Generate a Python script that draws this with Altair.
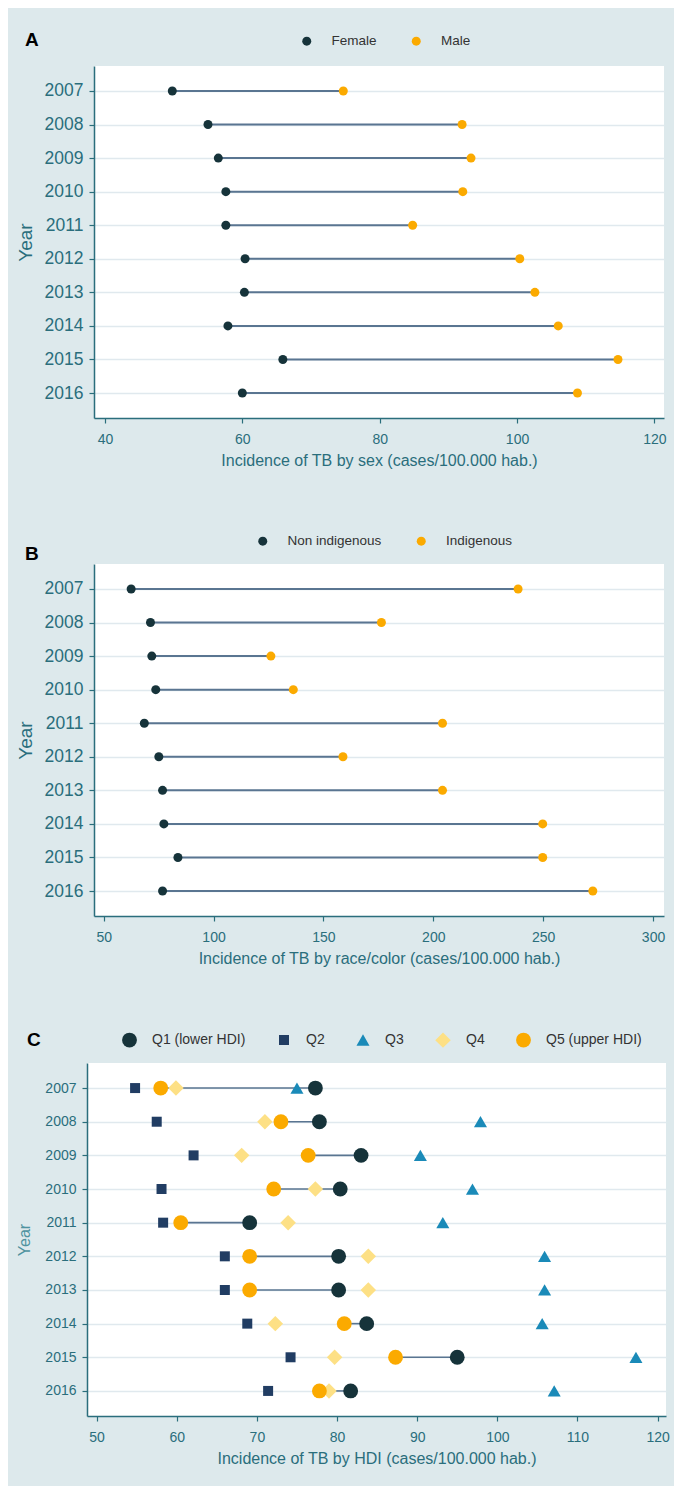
import altair as alt
import pandas as pd

# ---------------- data ----------------
years = [2007, 2008, 2009, 2010, 2011, 2012, 2013, 2014, 2015, 2016]

female = [49.8, 55.0, 56.5, 57.6, 57.6, 60.4, 60.3, 57.9, 65.9, 60.0]
male = [74.7, 92.0, 93.3, 92.1, 84.8, 100.4, 102.6, 106.0, 114.7, 108.8]

non_indigenous = [62.5, 71.3, 71.9, 73.7, 68.5, 75.1, 76.8, 77.4, 83.8, 76.8]
indigenous = [238.6, 176.4, 126.1, 136.3, 204.2, 158.9, 204.2, 249.8, 249.8, 272.6]

q1 = [77.3, 77.8, 83.0, 80.4, 69.1, 80.2, 80.2, 83.7, 95.0, 81.7]
q2 = [54.8, 57.5, 62.1, 58.1, 58.3, 66.0, 66.0, 68.8, 74.2, 71.4]
q3 = [75.0, 97.9, 90.4, 96.9, 93.2, 105.9, 105.9, 105.6, 117.3, 107.1]
q4 = [59.9, 71.0, 68.1, 77.3, 73.9, 83.9, 83.9, 72.3, 79.7, 79.0]
q5 = [58.0, 73.0, 76.4, 72.1, 60.5, 69.1, 69.1, 80.9, 87.3, 77.8]

hdi_groups = ["Q1 (lower HDI)", "Q2", "Q3", "Q4", "Q5 (upper HDI)"]

xticks_a = [40, 60, 80, 100, 120]
xticks_b = [50, 100, 150, 200, 250, 300]
xticks_c = [50, 60, 70, 80, 90, 100, 110, 120]

# ---------------- style ----------------
FONT = "Liberation Sans"
BG = "#dde9ec"
TEAL = "#2a6e7c"
TEAL_LIGHT = "#4f93a0"
DARK = "#16333a"
ORANGE = "#fbaa00"
LINE = "#5a7591"
NAVY = "#213d63"
BLUE = "#1a8ab8"
YELLOW = "#fde085"
GRID = "#e0e9ee"
LEG_TXT = "#333333"

INDEP = dict(color="independent", shape="independent", size="independent",
             x="independent", y="independent")


def y_axis(label_size, title_size, title_color, extent, title_pad):
    return alt.Axis(
        title="Year", titleFontSize=title_size, titleFontWeight="normal",
        titleColor=title_color, titlePadding=title_pad, titleFont=FONT,
        minExtent=extent, maxExtent=extent,
        labelFont=FONT, labelFontSize=label_size, labelColor=TEAL, labelPadding=6,
        domainColor=TEAL, domainWidth=1.5, tickColor=TEAL, tickSize=5, tickWidth=1.2,
        grid=True, gridColor=GRID, gridWidth=1.6,
    )


def x_axis(title, ticks):
    return alt.Axis(
        title=title, values=ticks, titleFontSize=16, titleFontWeight="normal",
        titleColor=TEAL, titlePadding=6, titleFont=FONT,
        labelFont=FONT, labelFontSize=14, labelColor=TEAL, labelPadding=9,
        domainColor=TEAL, domainWidth=1.5, tickColor=TEAL, tickSize=5, tickWidth=1.2,
        grid=False, labelFlush=False,
    )


def panel_title(letter, dx, dy):
    return alt.TitleParams(letter, anchor="start", frame="group", fontSize=19,
                           fontWeight="bold", color="black", font=FONT, dx=dx, dy=dy)


def spacer():
    # invisible 1px column so each panel's plot origin follows its own left extent
    return alt.Chart(pd.DataFrame({"v": [0]})).mark_point(opacity=0).encode(
        x=alt.value(0), y=alt.value(0)
    ).properties(width=1, height=1, view=alt.ViewBackground(fill=None, stroke=None))


def row(panel):
    return alt.hconcat(spacer(), panel, spacing=0).resolve_scale(**INDEP)


def dumbbell(letter, lo, hi, lo_name, hi_name, dom, ticks, xtitle, leg_x, leg_y, title_dy):
    wide = pd.DataFrame({"Year": years, "lo": lo, "hi": hi})
    long = pd.DataFrame({
        "Year": years + years,
        "Group": [lo_name] * len(years) + [hi_name] * len(years),
        "Value": lo + hi,
    })
    xs = alt.Scale(domain=dom, nice=False, zero=False)
    y = alt.Y("Year:O", scale=alt.Scale(type="point", padding=0.745),
              axis=y_axis(17.5, 19, TEAL, 51, 8))
    rule = alt.Chart(wide).mark_rule(color=LINE, strokeWidth=2).encode(
        y=y, x=alt.X("lo:Q", scale=xs, axis=x_axis(xtitle, ticks)), x2="hi:Q")
    pts = alt.Chart(long).mark_circle(size=81, opacity=1).encode(
        y=y,
        x=alt.X("Value:Q", scale=xs, axis=x_axis(xtitle, ticks)),
        color=alt.Color("Group:N", scale=alt.Scale(domain=[lo_name, hi_name], range=[DARK, ORANGE]),
                        legend=alt.Legend(orient="none", legendX=leg_x, legendY=leg_y,
                                          direction="horizontal", title=None, padding=0,
                                          labelFont=FONT, labelFontSize=13.5, labelColor=LEG_TXT,
                                          labelOffset=18, columnPadding=32.5, symbolSize=81,
                                          symbolStrokeWidth=0, symbolOpacity=1)),
    )
    return alt.layer(rule, pts).properties(width=570, height=352,
                                           view=alt.ViewBackground(fill="white", stroke=None),
                                           title=panel_title(letter, -69, title_dy))


panel_a = dumbbell("A", female, male, "Female", "Male", [38.4, 121.4], xticks_a,
                   "Incidence of TB by sex (cases/100.000 hab.)", 206, -32, 20)
panel_b = dumbbell("B", non_indigenous, indigenous, "Non indigenous", "Indigenous", [45.6, 305],
                   xticks_b, "Incidence of TB by race/color (cases/100.000 hab.)", 162, -30, 34)

# ---------------- panel C ----------------
wide_c = pd.DataFrame({"Year": years, "lo": q5, "hi": q1})
order = [1, 2, 3, 4, 0]  # draw Q2, Q3, Q4, Q5, then Q1 on top
series = [q1, q2, q3, q4, q5]
rows = []
for gi in order:
    for yr, v in zip(years, series[gi]):
        rows.append({"Year": yr, "Group": hdi_groups[gi], "Value": v})
long_c = pd.DataFrame(rows)

xs_c = alt.Scale(domain=[48.8, 121.05], nice=False, zero=False)
xtitle_c = "Incidence of TB by HDI (cases/100.000 hab.)"
y_c = alt.Y("Year:O", scale=alt.Scale(type="point", padding=0.745),
            axis=y_axis(14, 16, TEAL_LIGHT, 46, 9))
rule_c = alt.Chart(wide_c).mark_rule(color=LINE, strokeWidth=1.6).encode(
    y=y_c, x=alt.X("lo:Q", scale=xs_c, axis=x_axis(xtitle_c, xticks_c)), x2="hi:Q")
pts_c = alt.Chart(long_c).mark_point(filled=True, opacity=1).encode(
    y=y_c,
    x=alt.X("Value:Q", scale=xs_c, axis=x_axis(xtitle_c, xticks_c)),
    color=alt.Color("Group:N", scale=alt.Scale(domain=hdi_groups,
                                               range=[DARK, NAVY, BLUE, YELLOW, ORANGE]),
                    legend=alt.Legend(orient="none", legendX=35, legendY=-31,
                                      direction="horizontal", title=None, padding=0,
                                      labelFont=FONT, labelFontSize=14, labelColor=LEG_TXT,
                                      labelOffset=15, columnPadding=31,
                                      symbolStrokeWidth=0, symbolOpacity=1)),
    shape=alt.Shape("Group:N", scale=alt.Scale(type="ordinal", domain=hdi_groups,
                                               range=["circle", "square", "triangle-up",
                                                      "diamond", "circle"])),
    size=alt.Size("Group:N", scale=alt.Scale(type="ordinal", domain=hdi_groups,
                                             range=[220, 100, 170, 240, 220])),
)
panel_c = alt.layer(rule_c, pts_c).properties(width=579, height=353,
                                              view=alt.ViewBackground(fill="white", stroke=None),
                                              title=panel_title("C", -60, 22))

top_two = alt.concat(row(panel_a), row(panel_b), columns=1, spacing=66).resolve_scale(**INDEP)

chart = alt.concat(top_two, row(panel_c), columns=1, spacing=65).resolve_scale(**INDEP).configure(
    background=BG, padding={"left": 2, "top": 23, "right": 4, "bottom": 20}
).configure_view(stroke=None)

chart.save("out.html", embed_options={"renderer": "svg", "actions": False})
